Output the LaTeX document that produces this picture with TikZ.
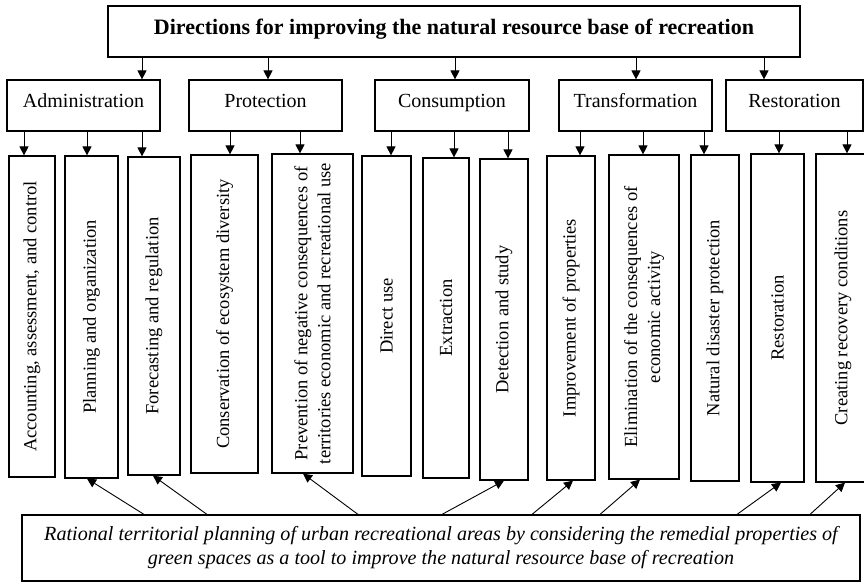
\documentclass[tikz,border=0pt]{standalone}
\usepackage{fontspec}
\setmainfont{Liberation Serif}
\usetikzlibrary{arrows.meta}

\begin{document}
\begin{tikzpicture}[x=1pt,y=-1pt,
    topbox/.style={draw,line width=1.2pt,inner sep=0pt,minimum height=51,
      font=\fontsize{22}{26}\selectfont\bfseries,text height=15,text depth=9.4},
    headbox/.style={draw,line width=1.2pt,inner sep=0pt,minimum height=51,
      font=\fontsize{20}{24}\selectfont,text height=14,text depth=11},
    leafbox/.style={draw,line width=1.2pt,inner sep=0pt,rotate=90,align=center,
      font=\fontsize{18.5}{23}\selectfont},
    notebox/.style={draw,line width=1.2pt,inner sep=0pt,align=center,
      font=\fontsize{20.1}{24}\selectfont\itshape},
    arr/.style={-{Triangle[length=9pt,width=9pt]},line width=0.9pt}]
    \useasboundingbox (0,0) rectangle (864,582);
    \clip (0,0) rectangle (864,582);

    % top level
    \node[topbox,minimum width=692] (dir) at (454,31.5)
      {Directions for improving the natural resource base of recreation};

    % directions
    \node[headbox,minimum width=153] (adm) at (83.5,105.5) {Administration};
    \node[headbox,minimum width=153] (prot) at (265.5,105.5) {Protection};
    \node[headbox,minimum width=154] (cons) at (452,105.5) {Consumption};
    \node[headbox,minimum width=153] (trans) at (635.5,105.5) {Transformation};
    \node[headbox,minimum width=137] (rest) at (794.5,105.5) {Restoration};

    % measures (rotated, so width is along the text)
    \node[leafbox,minimum width=321,minimum height=46] (account) at (32,316.5) {Accounting, assessment, and control};
    \node[leafbox,minimum width=322,minimum height=53] (planning) at (91.5,317) {Planning and organization};
    \node[leafbox,minimum width=318,minimum height=52] (forecast) at (154,316) {Forecasting and regulation};
    \node[leafbox,minimum width=318,minimum height=67] (diversity) at (224.5,314) {Conservation of ecosystem diversity};
    \node[leafbox,minimum width=319,minimum height=81] (prevent) at (312.5,313.5)
      {Prevention of negative consequences of\\territories economic and recreational use};
    \node[leafbox,minimum width=320,minimum height=49] (direct) at (386.5,316) {Direct use};
    \node[leafbox,minimum width=320,minimum height=46] (extract) at (446,318) {Extraction};
    \node[leafbox,minimum width=321,minimum height=48] (detect) at (504,319.5) {Detection and study};
    \node[leafbox,minimum width=324,minimum height=48] (improve) at (571,318) {Improvement of properties};
    \node[leafbox,minimum width=324,minimum height=70] (eliminate) at (644,317)
      {Elimination of the consequences of\\economic activity};
    \node[leafbox,minimum width=326,minimum height=48] (disaster) at (715,318) {Natural disaster protection};
    \node[leafbox,minimum width=328,minimum height=53] (restore) at (777.5,318) {Restoration};
    \node[leafbox,minimum width=328,minimum height=54] (recovery) at (843,318) {Creating recovery conditions};

    % bottom note
    \node[notebox,minimum width=838,minimum height=66] (note) at (441,548)
      {Rational territorial planning of urban recreational areas by considering the remedial properties of\\
       green spaces as a tool to improve the natural resource base of recreation};

    % arrows
    \foreach \x/\b in {142/adm,268/prot,455/cons,636/trans,764/rest}
      \draw[arr] (\x,0 |- dir.south) -- (\x,0 |- \b.north);

    \foreach \x/\a/\b in {24/adm/account,87/adm/planning,142/adm/forecast,
        230/prot/diversity,300/prot/prevent,
        391/cons/direct,454/cons/extract,508/cons/detect,
        580/trans/improve,643/trans/eliminate,704/trans/disaster,
        779/rest/restore,847/rest/recovery}
      \draw[arr] (\x,0 |- \a.south) -- (\x,0 |- \b.east);

    \foreach \s/\h/\b in {144/87/planning,207/153/forecast,358/303/prevent,
        442/504/detect,532/573/improve,600/640/eliminate,
        737/781/restore,810/845/recovery}
      \draw[arr] (\s,0 |- note.north) -- (\h,0 |- \b.west);
\end{tikzpicture}
\end{document}
